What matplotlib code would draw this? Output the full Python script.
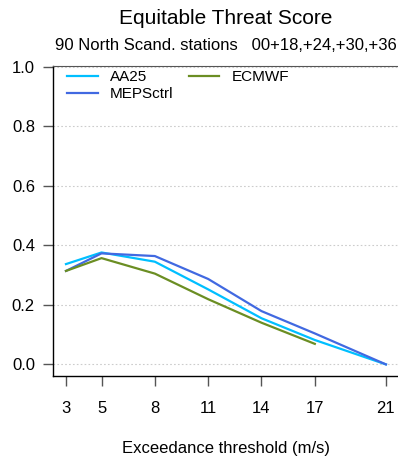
import numpy as np
import matplotlib
matplotlib.use('Agg')
import matplotlib.pyplot as plt

plt.rcParams['font.family'] = ['Liberation Sans', 'DejaVu Sans']

# thresholds and scores
thresholds = [3, 5, 8, 11, 14, 17, 21]
aa25 = [0.337, 0.376, 0.345, 0.252, 0.155, 0.082, 0.0]
mepsctrl = [0.314, 0.373, 0.364, 0.287, 0.179, 0.104, 0.0]
ecmwf_thr = [3, 5, 8, 11, 14, 17]
ecmwf = [0.314, 0.357, 0.305, 0.219, 0.140, 0.069]
yticks = [0.0, 0.2, 0.4, 0.6, 0.8, 1.0]

W, H = 398, 462
fig = plt.figure(figsize=(W / 100, H / 100), dpi=100)
ax = fig.add_axes([53 / W, 1 - 376 / H, 1 - 53 / W, (376 - 66) / H])

ax.plot(thresholds, aa25, color='#00BFFF', lw=1.6, label='AA25')
ax.plot(thresholds, mepsctrl, color='#4169E1', lw=1.6, label='MEPSctrl')
ax.plot(ecmwf_thr, ecmwf, color='#6B8E23', lw=1.6, label='ECMWF')

ax.set_xlim(2.27, 21.68)
ax.set_ylim(-0.039, 1.0025)
ax.set_xticks(thresholds)
ax.set_yticks(yticks)
ax.set_yticklabels(['%.1f' % v for v in yticks])
for v in yticks:
    ax.axhline(v, color='#cccccc', lw=0.8, ls=(0, (1.5, 2)), zorder=0)

ax.spines['right'].set_visible(False)
ax.spines['top'].set_color('#555555')
ax.spines['left'].set_linewidth(1.0)
ax.spines['bottom'].set_linewidth(1.0)
ax.tick_params(axis='both', length=7, width=1.0, color='#555555', labelsize=12)
ax.tick_params(axis='x', pad=11)
ax.tick_params(axis='y', pad=6)

ax.set_xlabel('Exceedance threshold (m/s)', fontsize=12, labelpad=18)

leg = ax.legend(loc='upper left', ncol=2, frameon=False, fontsize=11,
                handlelength=2.0, columnspacing=1.0, borderaxespad=0.2,
                labelspacing=0.2, bbox_to_anchor=(0.0145, 1.016))

cx = (53 + W) / 2 / W
fig.text(cx, 1 - 18 / H, 'Equitable Threat Score', ha='center', va='center', fontsize=15)
fig.text(cx, 1 - 45 / H, '90 North Scand. stations   00+18,+24,+30,+36',
         ha='center', va='center', fontsize=12)

fig.savefig('out.png', dpi=100)
